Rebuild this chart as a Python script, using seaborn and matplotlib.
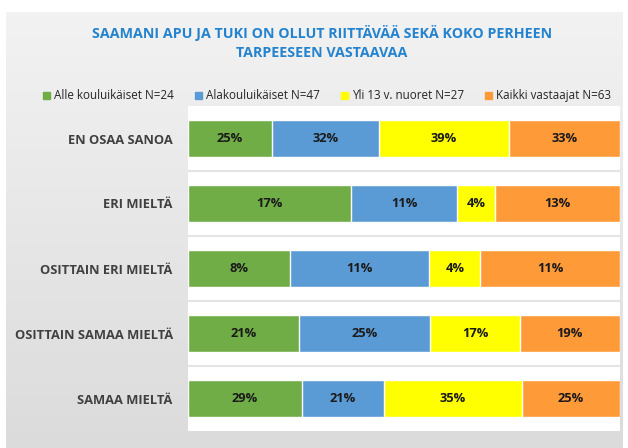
import numpy as np
import pandas as pd
import matplotlib.pyplot as plt
import seaborn as sns

# Data
categories = ["EN OSAA SANOA", "ERI MIELTÄ", "OSITTAIN ERI MIELTÄ",
              "OSITTAIN SAMAA MIELTÄ", "SAMAA MIELTÄ"]
series_names = ["Alle kouluikäiset N=24", "Alakouluikäiset N=47",
                "Yli 13 v. nuoret N=27", "Kaikki vastaajat N=63"]
alle = [25, 17, 8, 21, 29]
alakoulu = [32, 11, 11, 25, 21]
yli13 = [39, 4, 4, 17, 35]
kaikki = [33, 13, 11, 19, 25]
colors = ["#70ad47", "#5b9bd5", "#ffff00", "#ff9a38"]

title = "SAAMANI APU JA TUKI ON OLLUT RIITTÄVÄÄ SEKÄ KOKO PERHEEN\nTARPEESEEN VASTAAVAA"

values = np.array([alle, alakoulu, yli13, kaikki], dtype=float)
share = values / values.sum(axis=0) * 100
cum = np.cumsum(share, axis=0)

sns.set_theme(style="white")
plt.rcParams['font.family'] = ['Open Sans', 'DejaVu Sans']

fig = plt.figure(figsize=(6.28, 4.48), dpi=100)

# gray gradient panel behind the chart
bg = fig.add_axes([6 / 628, 0, 617 / 628, 436 / 448])
grad = np.linspace(0.95, 0.86, 256).reshape(-1, 1)
bg.imshow(np.dstack([grad, grad, grad]), aspect="auto", extent=[0, 1, 0, 1])
bg.axis("off")

ax = fig.add_axes([188 / 628, 17 / 448, 432 / 628, 325 / 448])
ax.set_facecolor("white")

# stacked bars: draw cumulative totals from the widest down
for i in range(len(series_names) - 1, -1, -1):
    df = pd.DataFrame({"cat": categories, "val": cum[i]})
    sns.barplot(data=df, y="cat", x="val", color=colors[i], width=0.57,
                saturation=1, ax=ax, orient="h")

for i in range(len(series_names)):
    for j in range(len(categories)):
        ax.text(cum[i, j] - share[i, j] / 2, j, f"{int(values[i, j])}%",
                ha="center", va="center", fontsize=9.3, fontweight="bold",
                color="#1a1a1a")

ax.set_xlim(0, 100)
ax.set_ylim(len(categories) - 0.5, -0.5)
for k in range(1, len(categories)):
    ax.axhline(k - 0.5, color="#e4e4e4", lw=1.5)
for s in ax.spines.values():
    s.set_visible(False)
ax.set_xticks([])
ax.set_xlabel("")
ax.set_ylabel("")
ax.tick_params(axis="y", length=0, pad=11)
for lab in ax.get_yticklabels():
    lab.set_fontweight("bold")
    lab.set_fontsize(9.3)
    lab.set_color("#404040")

fig.text(0.513, 0.905, title, ha="center", va="center", fontsize=10.3,
         fontweight="bold", color="#2483cf", linespacing=1.45)

handles = [plt.Rectangle((0, 0), 1, 1, color=c) for c in colors]
fig.legend(handles, series_names, loc="center", bbox_to_anchor=(0.521, 0.786),
           ncol=4, frameon=False, fontsize=8.4, handlelength=0.6,
           handleheight=0.6, handletextpad=0.35, columnspacing=1.8)

fig.savefig("out.png", dpi=100)
